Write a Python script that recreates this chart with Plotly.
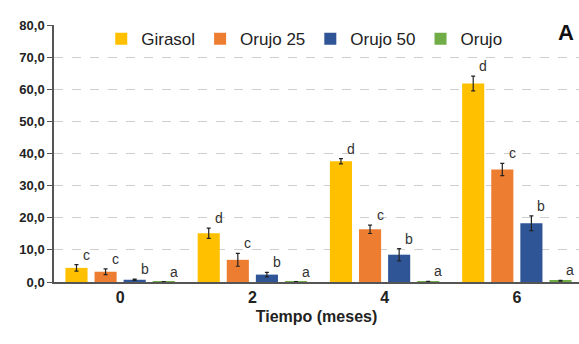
import plotly.graph_objects as go

# Storage time (months) and treatment series
months = ["0", "2", "4", "6"]
series_names = ["Girasol", "Orujo 25", "Orujo 50", "Orujo"]

girasol = [4.4, 15.2, 37.6, 61.8]
orujo25 = [3.2, 6.9, 16.4, 35.0]
orujo50 = [0.7, 2.3, 8.5, 18.3]
orujo = [0.05, 0.1, 0.15, 0.4]

girasol_err = [1.0, 1.6, 0.8, 2.3]
orujo25_err = [0.9, 2.0, 1.3, 1.9]
orujo50_err = [0.2, 0.7, 1.9, 2.3]
orujo_err = [0.05, 0.05, 0.05, 0.15]

girasol_letters = ["c", "d", "d", "d"]
orujo25_letters = ["c", "c", "c", "c"]
orujo50_letters = ["b", "b", "b", "b"]
orujo_letters = ["a", "a", "a", "a"]

colors = ["#FFC000", "#ED7D31", "#2F5597", "#70AD47"]

values = [girasol, orujo25, orujo50, orujo]
errors = [girasol_err, orujo25_err, orujo50_err, orujo_err]
letters = [girasol_letters, orujo25_letters, orujo50_letters, orujo_letters]

x_pos = list(range(len(months)))
bargap = 0.12
n = len(series_names)
slot = (1 - bargap) / n

fig = go.Figure()
for i, name in enumerate(series_names):
    fig.add_trace(go.Bar(
        x=x_pos, y=values[i], name=name,
        marker=dict(color=colors[i], line=dict(width=0)),
        error_y=dict(type="data", array=errors[i], visible=True,
                     color="#222222", thickness=1.2, width=2),
    ))

# Significance letters beside each error bar
for i in range(n):
    offset = -(1 - bargap) / 2 + slot * (i + 0.5)
    for j, xv in enumerate(x_pos):
        fig.add_annotation(
            x=xv + offset, y=values[i][j] + errors[i][j],
            text=letters[i][j], showarrow=False,
            xanchor="center", yanchor="bottom", xshift=10, yshift=0,
            font=dict(family="Liberation Sans, Arial", size=14, color="#333333"),
        )

fig.add_annotation(
    xref="paper", yref="paper", x=0.995, y=0.97, text="<b>A</b>",
    showarrow=False, xanchor="right", yanchor="middle",
    font=dict(family="Liberation Sans, Arial", size=22, color="#111111"),
)

fig.update_layout(
    width=579, height=344,
    margin=dict(l=54, r=0, t=25, b=62),
    paper_bgcolor="white", plot_bgcolor="white",
    barmode="group", bargap=bargap, bargroupgap=0.24,
    separators=",.",
    font=dict(family="Liberation Sans, Arial", color="#222222"),
    showlegend=True,
    legend=dict(
        orientation="h", x=0.09, y=0.945, xanchor="left", yanchor="middle",
        font=dict(size=17, color="#222222"), bgcolor="rgba(0,0,0,0)",
        itemwidth=30, tracegroupgap=0,
    ),
    xaxis=dict(
        tickmode="array", tickvals=x_pos, ticktext=["<b>%s</b>" % m for m in months],
        range=[-0.5, 3.47], showgrid=False, zeroline=False,
        showline=True, linecolor="#555555", linewidth=1.5,
        ticks="", tickfont=dict(size=16, color="#222222"),
        title=dict(text="<b>Tiempo (meses)</b>", font=dict(size=16, color="#222222"), standoff=6),
    ),
    yaxis=dict(
        range=[0, 80], dtick=10, tickformat=".1f",
        showgrid=True, gridcolor="#CFCFCF", griddash="dash", gridwidth=1,
        zeroline=False, showline=True, linecolor="#555555", linewidth=1.5,
        ticks="outside", ticklen=5, tickcolor="#555555",
        tickfont=dict(size=13, color="#222222", weight="bold"),
    ),
)

fig.write_html("out.html")
